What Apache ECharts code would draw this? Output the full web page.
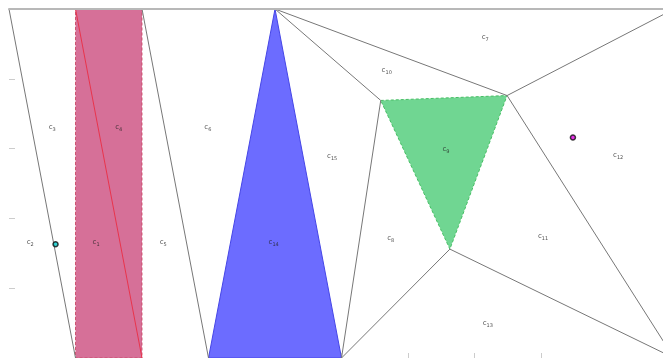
<!DOCTYPE html>
<html>
	<head>
		<meta charset="utf-8">
		<title></title>
		<script src="https://cdn.jsdelivr.net/npm/echarts@6/dist/echarts.min.js"></script>
		<style>
			html, body {
				margin: 0;
				padding: 0;
				background: #ffffff;
			}
			#main {
				width: 663px;
				height: 358px;
			}
		</style>
	</head>
	<body>
		<div id="main"></div>
	</body>
	<script>
		// filled cells (polygon vertices)
		var pinkCell = [[1, 5], [2, 5], [2, 0], [1, 0]];
		var blueCell = [[4, 5], [3, 0], [5, 0]];
		var greenCell = [[5.59, 3.69], [7.49, 3.76], [6.63, 1.56]];

		// cell boundaries
		var edges = [
			[[0, 5], [1, 0]],
			[[2, 5], [3, 0]],
			[[4, 5], [5.59, 3.69]],
			[[4, 5], [7.49, 3.76]],
			[[5.59, 3.69], [5, 0]],
			[[7.49, 3.76], [10, 5]],
			[[7.49, 3.76], [10, 0]],
			[[6.63, 1.56], [5, 0]],
			[[6.63, 1.56], [10, 0]]
		];
		var redEdge = [[1, 5], [2, 0]];

		// cell labels
		var cellIds = ['1', '2', '3', '4', '5', '6', '7', '8', '9', '10', '11', '12', '13', '14', '15'];
		var cellPos = [
			[1.31, 1.66], [0.32, 1.66], [0.65, 3.31], [1.65, 3.31], [2.32, 1.66],
			[2.99, 3.31], [7.16, 4.59], [5.74, 1.71], [6.57, 2.99], [5.68, 4.13],
			[8.03, 1.74], [9.16, 2.90], [7.20, 0.50], [3.98, 1.66], [4.86, 2.89]
		];

		// marked points
		var pointA = [0.70, 1.63];
		var pointB = [8.48, 3.16];

		var xTicks = [4, 5, 6, 7, 8];
		var yTicks = [1, 2, 3, 4];

		function polygonSeries(pts, fill, stroke, dash) {
			return {
				type: 'custom',
				coordinateSystem: 'cartesian2d',
				silent: true,
				z: 1,
				data: [0],
				renderItem: function (params, api) {
					var p = pts.map(function (v) { return api.coord(v); });
					return {
						type: 'polygon',
						shape: { points: p },
						style: { fill: fill, stroke: stroke, lineWidth: 1, lineDash: dash }
					};
				}
			};
		}

		function edgeSeries(list, color) {
			return {
				type: 'custom',
				coordinateSystem: 'cartesian2d',
				silent: true,
				z: 3,
				data: list.map(function (e, i) { return i; }),
				renderItem: function (params, api) {
					var e = list[params.dataIndex];
					var a = api.coord(e[0]);
					var b = api.coord(e[1]);
					return {
						type: 'line',
						shape: { x1: a[0], y1: a[1], x2: b[0], y2: b[1] },
						style: { stroke: color, lineWidth: 1 }
					};
				}
			};
		}

		var labelData = cellPos.map(function (p, i) {
			return { value: p, name: cellIds[i] };
		});

		// the plot runs a little past the right edge of the window
		var xMax = 654 / 66.5;

		var option = {
			animation: false,
			grid: { left: 9, top: 9, right: 0, bottom: -1 },
			xAxis: [{
				type: 'value', min: 0, max: xMax, position: 'bottom',
				axisLine: { show: false },
				axisTick: { show: true, inside: true, length: 5, customValues: xTicks, lineStyle: { color: '#cccccc' } },
				axisLabel: { show: false },
				splitLine: { show: false }
			}, {
				type: 'value', min: 0, max: xMax, position: 'top', z: 10,
				axisLine: { show: true, onZero: false, lineStyle: { color: '#b8b8b8', width: 2 } },
				axisTick: { show: false },
				axisLabel: { show: false },
				splitLine: { show: false }
			}],
			yAxis: {
				type: 'value', min: 0, max: 5,
				axisLine: { show: false },
				axisTick: { show: true, inside: true, length: 6, customValues: yTicks, lineStyle: { color: '#cccccc' } },
				axisLabel: { show: false },
				splitLine: { show: false }
			},
			series: [
				polygonSeries(pinkCell, 'rgb(214,112,152)', 'rgba(200,60,90,0.8)', [3, 2]),
				polygonSeries(blueCell, 'rgb(108,108,255)', 'rgb(70,70,230)', null),
				polygonSeries(greenCell, 'rgb(112,214,146)', 'rgb(70,190,100)', [3, 2]),
				edgeSeries(edges, '#777777'),
				edgeSeries([redEdge], '#e8344c'),
				{
					type: 'scatter',
					silent: true,
					z: 4,
					symbolSize: 0,
					data: labelData,
					label: {
						show: true,
						position: 'inside',
						formatter: function (p) { return 'c{s|' + p.name + '}'; },
						fontFamily: 'DejaVu Sans',
						fontSize: 7,
						color: '#222222',
						rich: {
							s: { fontSize: 5, color: '#222222', padding: [5, 0, 0, 0] }
						}
					}
				},
				{
					type: 'scatter',
					silent: true,
					z: 5,
					symbol: 'circle',
					symbolSize: 5,
					data: [
						{ value: pointA, itemStyle: { color: '#00c8c8' } },
						{ value: pointB, itemStyle: { color: '#e000e0' } }
					],
					itemStyle: { borderColor: '#111111', borderWidth: 1.5 }
				}
			]
		};

		var chart = echarts.init(document.getElementById('main'));
		chart.setOption(option);
	</script>
</html>
